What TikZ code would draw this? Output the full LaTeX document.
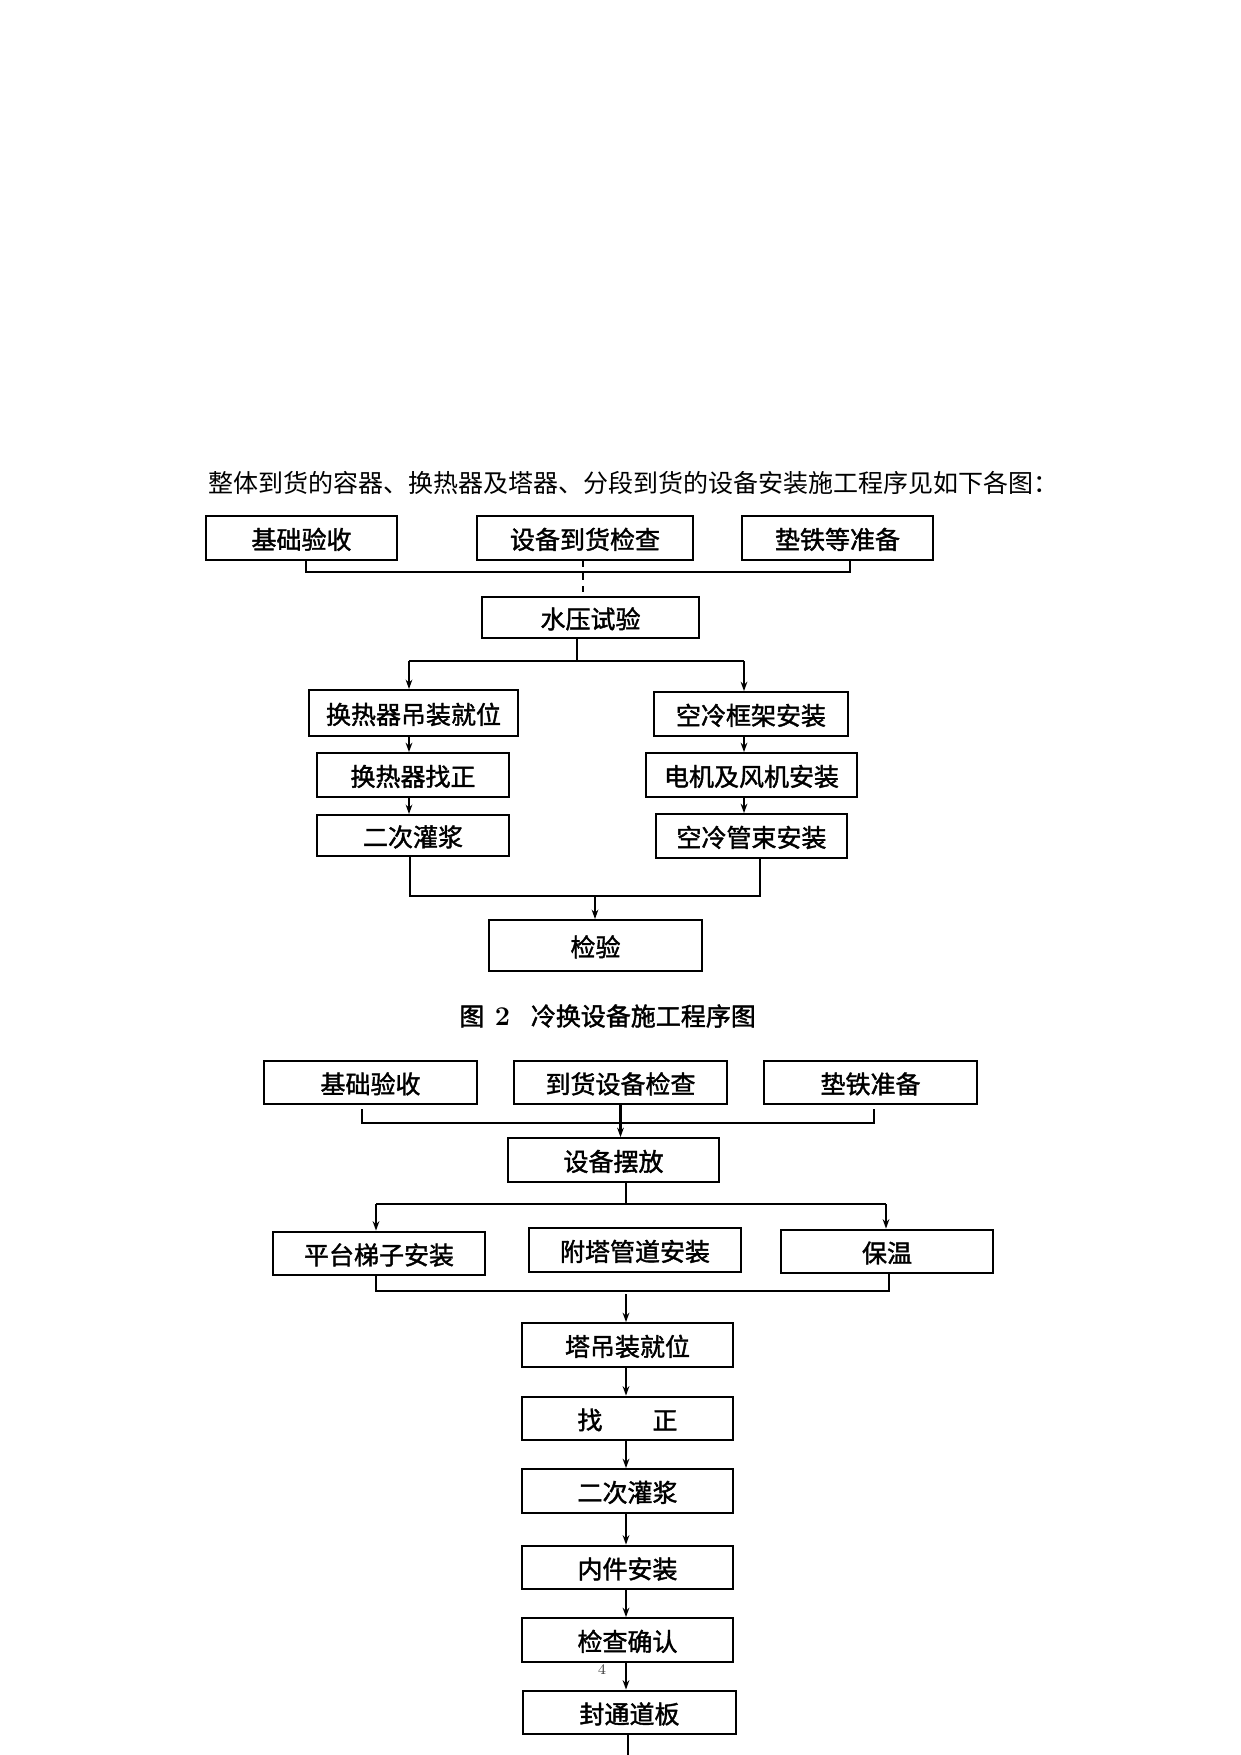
\documentclass[tikz,border=0pt]{standalone}
\usepackage{fontspec}
\newfontfamily\cjk{Noto Sans CJK SC}
\newfontfamily\cjkb{Noto Sans CJK SC}[FakeBold=1.6]
\usetikzlibrary{arrows.meta}
\begin{document}
\begin{tikzpicture}[x=0.48pt, y=-0.48pt, >={Stealth[length=4.5pt,width=3.2pt]},
		box/.style={draw, line width=1pt, inner sep=0pt, minimum height=21pt, text height=1.05em, text depth=0pt, font=\cjkb\fontsize{12}{14}\selectfont},
		conn/.style={line width=1pt},
		connthin/.style={line width=0.6pt}]
				\useasboundingbox (0,0) rectangle (1241,1755);

				\node[anchor=west, font=\cjk\fontsize{12}{15}\selectfont] (intro) at (201,483) {整体到货的容器、换热器及塔器、分段到货的设备安装施工程序见如下各图：};

				% figure 2
				\node[box, minimum width=191*0.48pt] (jcys1) at (301.5,538) {基础验收};
				\node[box, minimum width=216*0.48pt] (sbdh) at (585,538) {设备到货检查};
				\node[box, minimum width=191*0.48pt] (dtdzb) at (837.5,538) {垫铁等准备};
				\node[box, minimum width=217*0.48pt, minimum height=41*0.48pt] (sysy) at (590.5,617.5) {水压试验};
				\node[box, minimum width=209*0.48pt, minimum height=46*0.48pt] (hrdz) at (413.5,713) {换热器吊装就位};
				\node[box, minimum width=192*0.48pt] (hrzz) at (413,775) {换热器找正};
				\node[box, minimum width=192*0.48pt, minimum height=41*0.48pt] (ecgj1) at (413,835.5) {二次灌浆};
				\node[box, minimum width=194*0.48pt] (klkj) at (751,714) {空冷框架安装};
				\node[box, minimum width=211*0.48pt] (djfj) at (751.5,775) {电机及风机安装};
				\node[box, minimum width=191*0.48pt] (klgs) at (751.5,836) {空冷管束安装};
				\node[box, minimum width=213*0.48pt, minimum height=51*0.48pt] (jy) at (595.5,945.5) {检验};

				\coordinate (b1l) at (306,572);
				\coordinate (b1r) at (850,572);
				\draw[conn] (jcys1.south -| b1l) -- (b1l) -- (b1r) -- (dtdzb.south -| b1r);
				\coordinate (dsh) at (583,600);
				\draw[connthin, dashed] (sbdh.south -| dsh) -- (sysy.north -| dsh);

				\coordinate (s1) at (577,661);
				\coordinate (s1l) at (409,661);
				\coordinate (s1r) at (744,661);
				\draw[connthin] (sysy.south -| s1) -- (s1);
				\draw[conn] (s1l) -- (s1r);
				\draw[conn,->] (s1l) -- (hrdz.north -| s1l);
				\draw[conn,->] (s1r) -- (klkj.north -| s1r);
				\draw[conn,->] (hrdz.south -| s1l) -- (hrzz.north -| s1l);
				\draw[conn,->] (hrzz.south -| s1l) -- (ecgj1.north -| s1l);
				\draw[conn,->] (klkj.south -| s1r) -- (djfj.north -| s1r);
				\draw[conn,->] (djfj.south -| s1r) -- (klgs.north -| s1r);

				\coordinate (j1l) at (410,896);
				\coordinate (j1r) at (760,896);
				\coordinate (j1m) at (595,896);
				\draw[conn] (ecgj1.south -| j1l) -- (j1l) -- (j1r) -- (klgs.south -| j1r);
				\draw[conn,->] (j1m) -- (jy.north -| j1m);

				\node[anchor=west] (cap2) at (452,1016) {{\cjkb\fontsize{12}{14}\selectfont 图}\hspace{5pt}{\bfseries\fontsize{13}{14}\selectfont 2}\hspace{10pt}{\cjkb\fontsize{12}{14}\selectfont 冷换设备施工程序图}};

				% figure 3
				\node[box, minimum width=213*0.48pt] (jcys2) at (370.5,1082.5) {基础验收};
				\node[box, minimum width=213*0.48pt] (dhsb) at (620.5,1082.5) {到货设备检查};
				\node[box, minimum width=213*0.48pt] (dtzb) at (870.5,1082.5) {垫铁准备};
				\node[box, minimum width=211*0.48pt] (sbbf) at (613.5,1160) {设备摆放};
				\node[box, minimum width=212*0.48pt] (ptts) at (379,1253.5) {平台梯子安装};
				\node[box, minimum width=212*0.48pt] (ftgd) at (635,1250) {附塔管道安装};
				\node[box, minimum width=212*0.48pt] (bw) at (887,1251.5) {保温};
				\node[box, minimum width=211*0.48pt] (tdzw) at (627.5,1345) {塔吊装就位};
				\node[box, minimum width=211*0.48pt] (zz) at (627.5,1418.5) {找\quad\quad 正};
				\node[box, minimum width=211*0.48pt] (ecgj2) at (627.5,1491) {二次灌浆};
				\node[box, minimum width=211*0.48pt] (njaz) at (627.5,1567.5) {内件安装};
				\node[box, minimum width=211*0.48pt] (jcqr) at (627.5,1640) {检查确认};
				\node[box, minimum width=213*0.48pt] (ftdb) at (629.5,1712.5) {封通道板};

				\coordinate (b2lt) at (362,1109);
				\coordinate (b2l) at (362,1123);
				\coordinate (b2r) at (874,1123);
				\coordinate (b2rt) at (874,1109);
				\draw[conn] (b2lt) -- (b2l) -- (b2r) -- (b2rt);
				\draw[conn,->] (dhsb.south) -- (dhsb.south |- sbbf.north);

				\coordinate (s2) at (626,1204);
				\coordinate (s2l) at (376,1204);
				\coordinate (s2r) at (886,1204);
				\draw[conn] (sbbf.south -| s2) -- (s2);
				\draw[connthin] (s2l) -- (s2r);
				\draw[conn,->] (s2l) -- (ptts.north -| s2l);
				\draw[conn,->] (s2r) -- (bw.north -| s2r);

				\coordinate (b3l) at (376,1291);
				\coordinate (b3r) at (889,1291);
				\draw[connthin] (ptts.south -| b3l) -- (b3l) -- (b3r) -- (bw.south -| b3r);

				\coordinate (s3) at (626,1294);
				\draw[conn,->] (s3) -- (tdzw.north -| s3);
				\draw[conn,->] (tdzw.south -| s3) -- (zz.north -| s3);
				\draw[conn,->] (zz.south -| s3) -- (ecgj2.north -| s3);
				\draw[conn,->] (ecgj2.south -| s3) -- (njaz.north -| s3);
				\draw[conn,->] (njaz.south -| s3) -- (jcqr.north -| s3);
				\draw[conn,->] (jcqr.south -| s3) -- (ftdb.north -| s3);
				\coordinate (endp) at (628,1755);
				\draw[conn] (ftdb.south -| endp) -- (endp);

				\node[font=\fontsize{7}{8}\selectfont, text=black!75, inner sep=0pt] (pgno) at (602,1670) {4};
			\end{tikzpicture}
\end{document}
